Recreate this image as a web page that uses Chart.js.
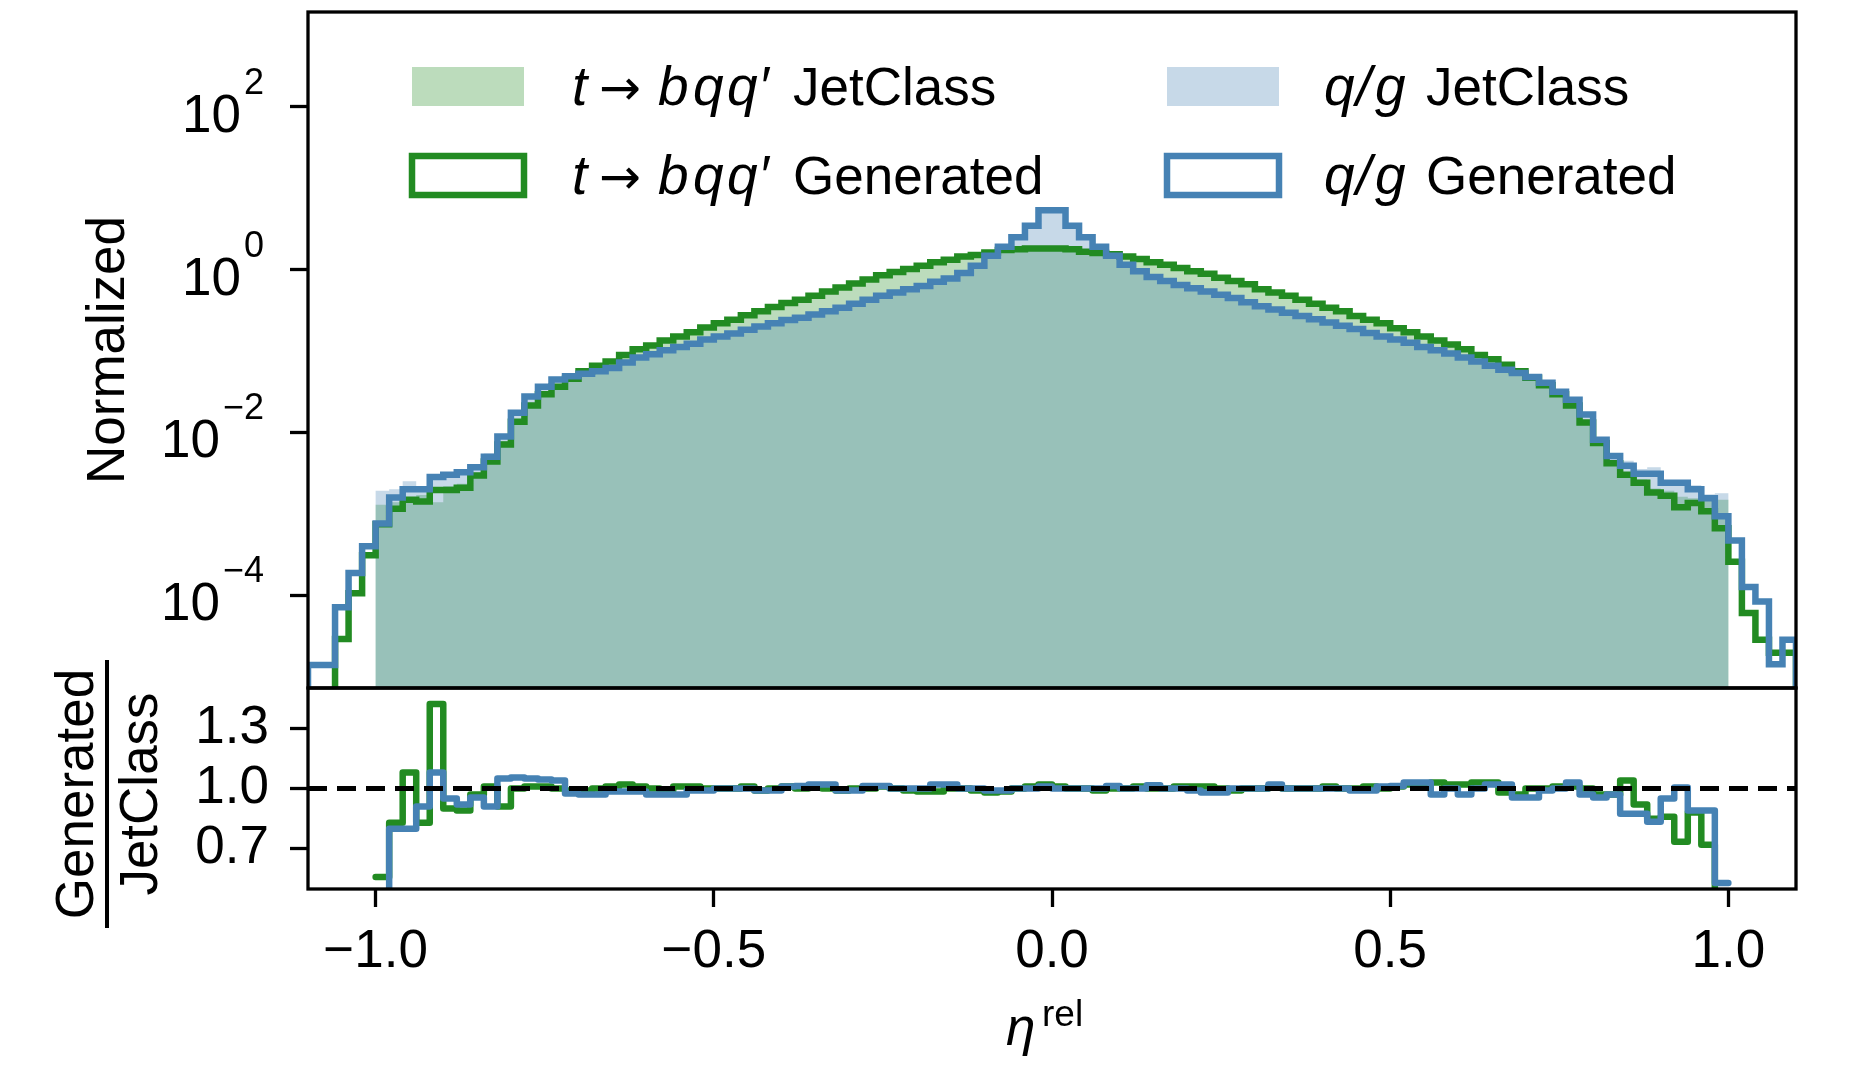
<!DOCTYPE html>
<html>
<head>
<meta charset="utf-8">
<script src="https://cdn.jsdelivr.net/npm/chart.js@4.4.1/dist/chart.umd.min.js"></script>
<style>
  html, body { margin: 0; padding: 0; background: #fff; }
  #wrap { position: relative; width: 1871px; height: 1066px; }
  #wrap canvas { position: absolute; left: 0; top: 0; }
</style>
</head>
<body>
<div id="wrap">
  <canvas id="mainChart" width="1871" height="1066"></canvas>
  <canvas id="ratioChart" width="1871" height="1066"></canvas>
</div>
<script>
// binning of eta_rel: 110 bins of 0.02 from -1.1 to 1.1
const xStart = -1.1;
const binWidth = 0.02;
const nBins = 110;

const logTicks = [1e2, 1e0, 1e-2, 1e-4];
const ratioTicks = [0.7, 1.0, 1.3];
const xTicks = [-1.0, -0.5, 0.0, 0.5, 1.0];

// t -> bqq' generated (green outline)
const tGenerated = [
  0, 0, 2.88e-5, 1.05e-4, 3.09e-4, 7.41e-4, 1.15e-3, 1.48e-3, 1.41e-3, 1.95e-3,
  1.95e-3, 2.09e-3, 2.95e-3, 4.37e-3, 7.08e-3, 1.35e-2, 2.14e-2, 2.95e-2, 3.63e-2, 4.57e-2,
  5.62e-2, 6.61e-2, 7.41e-2, 8.91e-2, 0.105, 0.117, 0.135, 0.151, 0.170, 0.195,
  0.219, 0.243, 0.275, 0.309, 0.347, 0.389, 0.427, 0.479, 0.537, 0.603,
  0.676, 0.759, 0.851, 0.933, 1.02, 1.12, 1.23, 1.32, 1.45, 1.51,
  1.62, 1.74, 1.78, 1.82, 1.82, 1.82, 1.78, 1.66, 1.60, 1.55,
  1.45, 1.35, 1.23, 1.15, 1.05, 0.955, 0.891, 0.794, 0.724, 0.661,
  0.575, 0.525, 0.479, 0.427, 0.380, 0.339, 0.309, 0.269, 0.243, 0.219,
  0.191, 0.170, 0.151, 0.135, 0.120, 0.105, 8.91e-2, 7.94e-2, 6.76e-2, 5.62e-2,
  4.68e-2, 3.80e-2, 2.95e-2, 2.14e-2, 1.32e-2, 7.41e-3, 4.17e-3, 3.02e-3, 2.40e-3, 1.82e-3,
  1.66e-3, 1.20e-3, 1.35e-3, 1.07e-3, 6.61e-4, 2.57e-4, 6.03e-5, 2.82e-5, 1.95e-5, 1.95e-5
];

// q/g generated (blue outline)
const qgGenerated = [
  1.38e-5, 1.38e-5, 7.08e-5, 1.86e-4, 3.98e-4, 7.59e-4, 1.58e-3, 2.00e-3, 2.00e-3, 2.82e-3,
  3.02e-3, 3.24e-3, 3.72e-3, 5.01e-3, 8.91e-3, 1.74e-2, 2.75e-2, 3.63e-2, 4.47e-2, 4.90e-2,
  5.25e-2, 5.62e-2, 6.17e-2, 7.24e-2, 8.32e-2, 9.12e-2, 0.102, 0.112, 0.123, 0.138,
  0.151, 0.164, 0.182, 0.200, 0.219, 0.240, 0.257, 0.282, 0.309, 0.339,
  0.380, 0.427, 0.479, 0.525, 0.575, 0.631, 0.708, 0.776, 0.912, 1.12,
  1.48, 1.91, 2.51, 3.47, 5.37, 5.37, 3.47, 2.51, 1.91, 1.48,
  1.15, 0.955, 0.813, 0.724, 0.646, 0.589, 0.537, 0.490, 0.447, 0.398,
  0.355, 0.324, 0.295, 0.269, 0.245, 0.224, 0.204, 0.186, 0.166, 0.151,
  0.138, 0.126, 0.112, 0.102, 9.33e-2, 8.32e-2, 7.41e-2, 6.61e-2, 5.89e-2, 5.37e-2,
  4.79e-2, 4.07e-2, 3.16e-2, 2.51e-2, 1.66e-2, 8.13e-3, 5.13e-3, 3.89e-3, 3.09e-3, 3.09e-3,
  2.40e-3, 2.40e-3, 2.00e-3, 1.55e-3, 9.33e-4, 4.68e-4, 1.26e-4, 8.32e-5, 1.41e-5, 2.82e-5
];

// t -> bqq' JetClass (green fill)
const tJetClass = [
  0, 0, 0, 0, 0, 1.29e-3, 1.38e-3, 1.38e-3, 1.70e-3, 1.38e-3,
  2.19e-3, 2.34e-3, 3.02e-3, 4.37e-3, 7.76e-3, 1.35e-2, 2.12e-2, 2.92e-2, 3.67e-2, 4.62e-2,
  5.68e-2, 6.61e-2, 7.34e-2, 8.74e-2, 0.104, 0.117, 0.136, 0.150, 0.168, 0.195,
  0.219, 0.243, 0.272, 0.312, 0.347, 0.385, 0.427, 0.474, 0.537, 0.609,
  0.676, 0.759, 0.843, 0.933, 1.03, 1.14, 1.25, 1.32, 1.45, 1.53,
  1.65, 1.77, 1.78, 1.80, 1.78, 1.80, 1.78, 1.66, 1.62, 1.55,
  1.45, 1.34, 1.23, 1.15, 1.04, 0.946, 0.882, 0.794, 0.731, 0.661,
  0.575, 0.520, 0.479, 0.427, 0.380, 0.336, 0.309, 0.269, 0.241, 0.219,
  0.189, 0.167, 0.148, 0.131, 0.118, 0.103, 8.65e-2, 7.71e-2, 6.90e-2, 5.79e-2,
  4.68e-2, 3.80e-2, 2.92e-2, 2.12e-2, 1.32e-2, 7.64e-3, 4.30e-3, 2.88e-3, 2.63e-3, 2.04e-3,
  1.91e-3, 1.62e-3, 1.55e-3, 1.45e-3, 1.48e-3, 0, 0, 0, 0, 0
];

// q/g JetClass (blue fill)
const qgJetClass = [
  0, 0, 0, 0, 0, 1.91e-3, 2.00e-3, 2.51e-3, 2.19e-3, 2.63e-3,
  3.16e-3, 3.55e-3, 3.89e-3, 5.50e-3, 8.51e-3, 1.66e-2, 2.63e-2, 3.55e-2, 4.57e-2, 5.13e-2,
  5.50e-2, 5.82e-2, 6.33e-2, 7.39e-2, 8.44e-2, 9.40e-2, 0.105, 0.115, 0.124, 0.139,
  0.151, 0.164, 0.182, 0.202, 0.221, 0.238, 0.254, 0.276, 0.303, 0.342,
  0.384, 0.421, 0.473, 0.525, 0.575, 0.631, 0.694, 0.761, 0.912, 1.12,
  1.49, 1.93, 2.51, 3.47, 5.32, 5.37, 3.47, 2.51, 1.91, 1.46,
  1.15, 0.955, 0.800, 0.724, 0.646, 0.595, 0.548, 0.500, 0.447, 0.398,
  0.355, 0.318, 0.295, 0.269, 0.245, 0.224, 0.204, 0.188, 0.168, 0.150,
  0.136, 0.122, 0.109, 0.105, 9.33e-2, 8.58e-2, 7.41e-2, 6.48e-2, 5.77e-2, 5.62e-2,
  5.01e-2, 4.11e-2, 3.16e-2, 2.44e-2, 1.71e-2, 8.51e-3, 5.29e-3, 4.47e-3, 3.55e-3, 3.72e-3,
  2.51e-3, 2.40e-3, 2.24e-3, 1.74e-3, 1.78e-3, 0, 0, 0, 0, 0
];

// Generated / JetClass, only where JetClass is filled
const tRatio = [
  null, null, null, null, null, 0.56, 0.83, 1.08, 0.83, 1.42,
  0.90, 0.89, 0.97, 1.01, 0.91, 1.00, 1.01, 1.01, 1.00, 0.99,
  0.99, 1.00, 1.01, 1.02, 1.01, 1.00, 0.99, 1.01, 1.01, 1.00,
  1.00, 1.00, 1.01, 0.99, 1.00, 1.01, 1.00, 1.01, 1.00, 0.99,
  1.00, 1.00, 1.01, 1.00, 0.99, 0.985, 0.985, 1.00, 1.00, 0.99,
  0.98, 0.985, 1.00, 1.01, 1.02, 1.01, 1.00, 1.00, 0.99, 1.00,
  1.00, 1.01, 1.00, 1.00, 1.01, 1.01, 1.01, 1.00, 0.99, 1.00,
  1.00, 1.01, 1.00, 1.00, 1.00, 1.01, 1.00, 1.00, 1.01, 1.00,
  1.01, 1.02, 1.02, 1.03, 1.02, 1.02, 1.03, 1.03, 0.98, 0.97,
  1.00, 1.00, 1.01, 1.01, 1.00, 0.97, 0.97, 1.04, 0.92, 0.85,
  0.86, 0.735, 0.88, 0.72, 0.45, null, null, null, null, null
];

const qgRatio = [
  null, null, null, null, null, 0.40, 0.80, 0.80, 0.91, 1.08,
  0.95, 0.92, 0.955, 0.91, 1.05, 1.055, 1.05, 1.045, 1.04, 0.975,
  0.97, 0.97, 0.985, 0.985, 0.985, 0.97, 0.97, 0.97, 0.99, 0.99,
  1.00, 1.00, 1.00, 0.99, 0.99, 1.01, 1.013, 1.02, 1.02, 0.99,
  0.99, 1.013, 1.013, 1.00, 1.00, 1.00, 1.02, 1.02, 1.00, 1.00,
  0.99, 0.99, 1.00, 1.00, 1.01, 1.00, 1.00, 1.00, 1.00, 1.013,
  1.00, 1.00, 1.016, 1.00, 1.00, 0.99, 0.98, 0.98, 1.00, 1.00,
  1.00, 1.02, 1.00, 1.00, 1.00, 1.00, 1.00, 0.99, 0.99, 1.01,
  1.013, 1.03, 1.03, 0.97, 1.00, 0.97, 1.00, 1.02, 1.02, 0.955,
  0.955, 0.99, 1.00, 1.03, 0.97, 0.955, 0.97, 0.875, 0.875, 0.835,
  0.95, 1.005, 0.89, 0.89, 0.53, null, null, null, null, null
];

const green = '#228b22';
const blue = '#4682b4';
const greenFill = 'rgba(34,139,34,0.3)';
const blueFill = 'rgba(70,130,180,0.3)';
const FONT = '"Liberation Sans", Arial, sans-serif';
const FLOOR = 1e-12; // empty bins: push below the log axis

let edges = [];
for (let i = 0; i <= nBins; i++) edges.push(Math.round((xStart + i * binWidth) * 100) / 100);

// step outline of a histogram: value of bin i held from edges[i] to edges[i+1]
function stepPoints(vals, closeEnds) {
  let pts = [];
  if (closeEnds) pts.push({ x: edges[0], y: FLOOR });
  for (let i = 0; i < vals.length; i++) {
    let v = vals[i];
    if (v === null) { pts.push({ x: edges[i], y: null }); continue; }
    if (v === 0) v = FLOOR;
    pts.push({ x: edges[i], y: v });
    if (i === vals.length - 1 || vals[i + 1] === null) pts.push({ x: edges[i + 1], y: v });
  }
  if (closeEnds) pts.push({ x: edges[vals.length], y: FLOOR });
  return pts;
}

function drawRuns(ctx, x, y, runs) {
  runs.forEach(r => {
    ctx.font = (r.it ? 'italic ' : '') + (r.size || 53) + 'px ' + (r.family || FONT);
    ctx.fillText(r.t, x + (r.dx || 0), y);
  });
}

const tickGrid = { display: true, drawOnChartArea: false, drawTicks: true, tickLength: 18, tickWidth: 3.3, tickColor: '#000' };

// ---------- main panel ----------
const mainDecor = {
  id: 'mainDecor',
  afterDraw(chart) {
    const ctx = chart.ctx, a = chart.chartArea, ys = chart.scales.y;
    ctx.save();
    ctx.strokeStyle = '#000';
    ctx.lineWidth = 3.3;
    ctx.strokeRect(a.left, a.top, a.right - a.left, a.bottom - a.top);

    ctx.fillStyle = '#000';
    ctx.textBaseline = 'alphabetic';
    ctx.textAlign = 'right';
    logTicks.forEach(v => {
      const y = ys.getPixelForValue(v);
      const e = Math.round(Math.log10(v));
      const sup = (e < 0 ? '\u2212' : '') + Math.abs(e);
      ctx.font = '36px ' + FONT;
      ctx.fillText(sup, 264, y - 13);
      const w = ctx.measureText(sup).width;
      ctx.font = '53px ' + FONT;
      ctx.fillText('10', 264 - w - 3, y + 25);
    });

    ctx.save();
    ctx.translate(124, (a.top + a.bottom) / 2);
    ctx.rotate(-Math.PI / 2);
    ctx.textAlign = 'center';
    ctx.font = '53px ' + FONT;
    ctx.fillText('Normalized', 0, 0);
    ctx.restore();

    // legend, two columns
    ctx.textAlign = 'left';
    ctx.fillStyle = greenFill;
    ctx.fillRect(412, 67, 112, 39);
    ctx.fillStyle = blueFill;
    ctx.fillRect(1167, 67, 112, 39);
    ctx.lineWidth = 6.5;
    ctx.strokeStyle = green;
    ctx.strokeRect(412, 156, 112, 39);
    ctx.strokeStyle = blue;
    ctx.strokeRect(1167, 156, 112, 39);

    ctx.fillStyle = '#000';
    const tProc = [
      { t: 't', it: true, size: 55, dx: 0 },
      { t: '\u2192', dx: 27, family: '"DejaVu Sans", sans-serif', size: 50 },
      { t: 'b', it: true, size: 55, dx: 86 },
      { t: 'q', it: true, size: 55, dx: 121 },
      { t: 'q', it: true, size: 55, dx: 155 },
      { t: '\u2032', size: 55, dx: 189 }
    ];
    const qgProc = [
      { t: 'q', it: true, size: 55, dx: 0 },
      { t: '/', it: true, size: 55, dx: 32 },
      { t: 'g', it: true, size: 55, dx: 51 }
    ];
    const rows = [[105, 'JetClass'], [194, 'Generated']];
    rows.forEach(([y, name]) => {
      drawRuns(ctx, 572, y, tProc.concat([{ t: name, dx: 221 }]));
      drawRuns(ctx, 1324, y, qgProc.concat([{ t: name, dx: 102 }]));
    });
    ctx.restore();
  }
};

new Chart(document.getElementById('mainChart'), {
  type: 'line',
  data: {
    datasets: [
      { data: stepPoints(qgGenerated, true), borderColor: blue, borderWidth: 6.5, stepped: 'before', fill: false, borderJoinStyle: 'miter' },
      { data: stepPoints(tGenerated, true), borderColor: green, borderWidth: 6.5, stepped: 'before', fill: false, borderJoinStyle: 'miter' },
      { data: stepPoints(qgJetClass, false), borderWidth: 0, borderColor: 'rgba(0,0,0,0)', backgroundColor: blueFill, stepped: 'before', fill: 'start' },
      { data: stepPoints(tJetClass, false), borderWidth: 0, borderColor: 'rgba(0,0,0,0)', backgroundColor: greenFill, stepped: 'before', fill: 'start' }
    ]
  },
  options: {
    responsive: false,
    animation: false,
    events: [],
    layout: { padding: { left: 0, top: 12, right: 75, bottom: 378 } },
    elements: { point: { radius: 0 } },
    plugins: { legend: { display: false }, tooltip: { enabled: false } },
    scales: {
      x: { type: 'linear', min: -1.1, max: 1.1, display: false },
      y: {
        type: 'logarithmic', min: 7.2e-6, max: 1.47e3,
        afterFit: s => { s.width = 308; },
        afterBuildTicks: s => { s.ticks = logTicks.map(v => ({ value: v })); },
        ticks: { display: false },
        grid: tickGrid,
        border: { display: false }
      }
    }
  },
  plugins: [mainDecor]
});

// ---------- ratio panel ----------
const ratioDecor = {
  id: 'ratioDecor',
  afterDraw(chart) {
    const ctx = chart.ctx, a = chart.chartArea;
    ctx.save();
    ctx.strokeStyle = '#000';
    ctx.lineWidth = 3.3;
    ctx.strokeRect(a.left, a.top, a.right - a.left, a.bottom - a.top);

    // Generated / JetClass fraction label
    const cy = 794;
    ctx.fillStyle = '#000';
    ctx.font = '53px ' + FONT;
    ctx.save();
    ctx.translate(93, cy);
    ctx.rotate(-Math.PI / 2);
    ctx.textAlign = 'center';
    ctx.fillText('Generated', 0, 0);
    ctx.restore();
    ctx.save();
    ctx.translate(157, cy);
    ctx.rotate(-Math.PI / 2);
    ctx.textAlign = 'center';
    ctx.fillText('JetClass', 0, 0);
    ctx.restore();
    ctx.fillRect(105, cy - 134, 4, 268);

    // x label eta^rel
    ctx.textAlign = 'left';
    ctx.font = 'italic 53px ' + FONT;
    ctx.fillText('\u03b7', 1006, 1045);
    ctx.font = '37px ' + FONT;
    ctx.fillText('rel', 1042, 1026);
    ctx.restore();
  }
};

function fmtX(v) {
  if (v === 0) return '0.0';
  return (v < 0 ? '\u2212' : '') + Math.abs(v).toFixed(1);
}

new Chart(document.getElementById('ratioChart'), {
  type: 'line',
  data: {
    datasets: [
      { data: [{ x: -1.1, y: 1 }, { x: 1.1, y: 1 }], borderColor: '#000', borderWidth: 5, borderDash: [19, 10], fill: false },
      { data: stepPoints(qgRatio, false), borderColor: blue, borderWidth: 6.5, stepped: 'before', fill: false, borderJoinStyle: 'round', borderCapStyle: 'round' },
      { data: stepPoints(tRatio, false), borderColor: green, borderWidth: 6.5, stepped: 'before', fill: false, borderJoinStyle: 'round', borderCapStyle: 'round' }
    ]
  },
  options: {
    responsive: false,
    animation: false,
    events: [],
    layout: { padding: { left: 0, top: 688, right: 75, bottom: 0 } },
    elements: { point: { radius: 0 } },
    plugins: { legend: { display: false }, tooltip: { enabled: false } },
    scales: {
      x: {
        type: 'linear', min: -1.1, max: 1.1,
        afterFit: s => { s.height = 177; },
        afterBuildTicks: s => { s.ticks = xTicks.map(v => ({ value: v })); },
        ticks: { font: { family: FONT, size: 53 }, color: '#000', padding: 14, maxRotation: 0, autoSkip: false, callback: v => fmtX(v) },
        grid: tickGrid,
        border: { display: false }
      },
      y: {
        type: 'linear', min: 0.5, max: 1.5,
        afterFit: s => { s.width = 308; },
        afterBuildTicks: s => { s.ticks = ratioTicks.map(v => ({ value: v })); },
        ticks: { font: { family: FONT, size: 53 }, color: '#000', padding: 21, callback: v => v.toFixed(1) },
        grid: tickGrid,
        border: { display: false }
      }
    }
  },
  plugins: [ratioDecor]
});
</script>
</body>
</html>
